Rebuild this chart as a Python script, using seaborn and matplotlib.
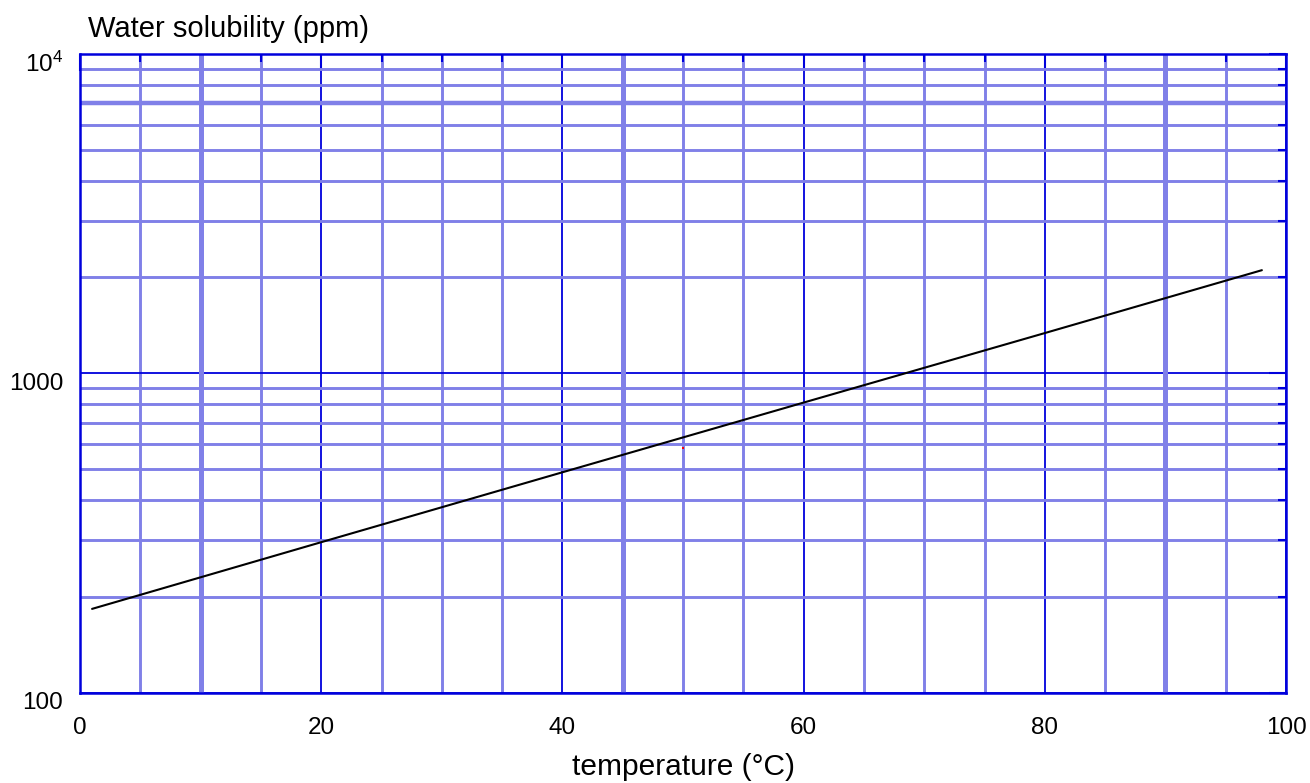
import matplotlib
matplotlib.use("Agg")
import matplotlib.pyplot as plt
import matplotlib.transforms as mtransforms
from matplotlib.ticker import MultipleLocator, LogLocator, NullFormatter, FixedLocator, FixedFormatter
import seaborn as sns
import pandas as pd

# ---- data ----
temperature = [1, 20, 40, 60, 80, 98]                 # °C
solubility = [183, 296, 490, 810, 1337, 2104]         # ppm
marker_temp = [50]
marker_sol = [585]
y_major_ticks = [100, 1000, 10000]
y_major_labels = ["100", "1000", r"$\mathregular{10^{4}}$"]
x_major_ticks = [0, 20, 40, 60, 80, 100]

# grid lines that appear heavier in the reference
heavy_grid_x = [10, 45, 90]
heavy_grid_y = [7000]

DARK = "#0000dc"
LIGHT = "#8080e8"

sns.set_theme(style="white")
plt.rcParams["font.family"] = ["Liberation Sans", "DejaVu Sans"]
plt.rcParams["mathtext.fontset"] = "custom"
plt.rcParams["mathtext.rm"] = "Liberation Sans"
plt.rcParams["text.color"] = "black"
plt.rcParams["axes.labelcolor"] = "black"
plt.rcParams["xtick.labelcolor"] = "black"
plt.rcParams["ytick.labelcolor"] = "black"

fig = plt.figure(figsize=(13.1, 7.83), dpi=100)
ax = fig.add_axes([80 / 1310, 1 - 692.7 / 783, 1206 / 1310, (692.7 - 54) / 783])

df = pd.DataFrame({"temperature": temperature, "solubility": solubility})
sns.lineplot(data=df, x="temperature", y="solubility", color="black", lw=1.5, ax=ax, zorder=3)
sns.scatterplot(x=marker_temp, y=marker_sol, color="red", marker="s", s=4, linewidth=0, ax=ax, zorder=3)

ax.set_yscale("log")
ax.set_xlim(0, 100)
ax.set_ylim(100, 10000)

ax.xaxis.set_major_locator(FixedLocator(x_major_ticks))
ax.xaxis.set_minor_locator(MultipleLocator(5))
ax.yaxis.set_major_locator(FixedLocator(y_major_ticks))
ax.yaxis.set_major_formatter(FixedFormatter(y_major_labels))
ax.yaxis.set_minor_locator(LogLocator(base=10, subs=range(2, 10)))
ax.yaxis.set_minor_formatter(NullFormatter())

ax.set_axisbelow(True)
ax.grid(which="minor", color=LIGHT, lw=2.1)
ax.grid(which="major", color=DARK, lw=1.3)
for v in heavy_grid_x:
    ax.axvline(v, color=LIGHT, lw=3.6, zorder=0.6)
for v in heavy_grid_y:
    ax.axhline(v, color=LIGHT, lw=3.2, zorder=0.6)

for s in ax.spines.values():
    s.set_color(DARK)
    s.set_linewidth(1.8)
    s.set_visible(True)

ax.tick_params(which="both", direction="in", top=True, right=True, color=DARK, width=1.5)
ax.tick_params(which="major", length=12)
ax.tick_params(which="minor", length=6)
ax.tick_params(axis="x", which="major", labelsize=17.5, pad=17.5)
ax.tick_params(axis="y", which="major", labelsize=17.5, pad=12)

ax.set_xlabel("temperature (°C)", fontsize=21.5, labelpad=10)
ax.set_ylabel("")

offset = mtransforms.ScaledTranslation(0, -0.08, fig.dpi_scale_trans)
for lab in ax.get_yticklabels():
    lab.set_transform(lab.get_transform() + offset)

fig.text(88 / 1310, 1 - 37 / 783, "Water solubility (ppm)", fontsize=21, ha="left", va="baseline")

fig.savefig("out.png", dpi=100, facecolor="white")
